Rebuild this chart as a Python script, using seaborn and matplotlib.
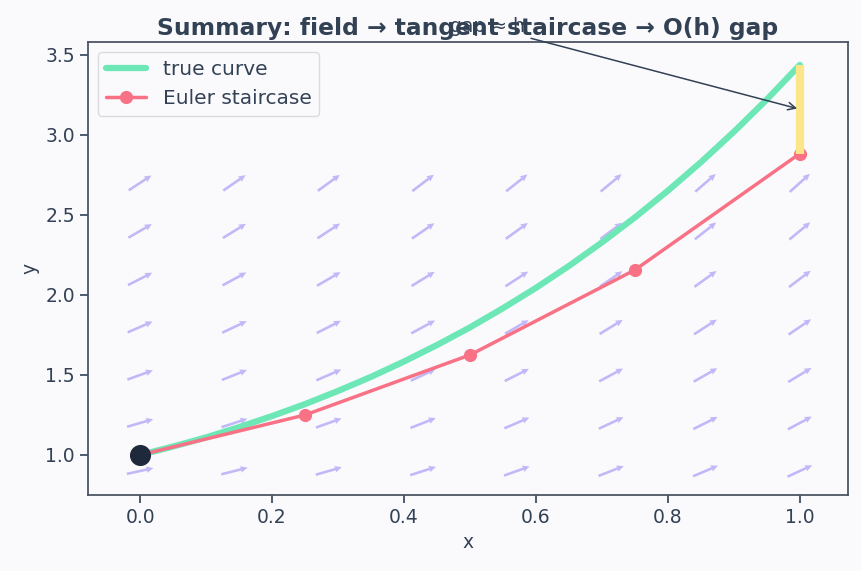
import numpy as np
import matplotlib
matplotlib.use("Agg")
import matplotlib.pyplot as plt
import seaborn as sns
import pandas as pd

# true solution (y' = x + y, y(0) = 1)
true_x = [0.0, 0.05, 0.1, 0.15, 0.2, 0.25, 0.3, 0.35, 0.4, 0.45, 0.5,
          0.55, 0.6, 0.65, 0.7, 0.75, 0.8, 0.85, 0.9, 0.95, 1.0]
true_y = [1.0, 1.053, 1.110, 1.174, 1.243, 1.318, 1.400, 1.488, 1.584, 1.687, 1.797,
          1.917, 2.044, 2.181, 2.328, 2.484, 2.651, 2.829, 3.019, 3.221, 3.437]

# Euler staircase, h = 0.25
euler_x = [0.0, 0.25, 0.5, 0.75, 1.0]
euler_y = [1.0, 1.25, 1.625, 2.156, 2.883]

# slope field grid
field_x = [0.0, 0.143, 0.286, 0.429, 0.571, 0.714, 0.857, 1.0]
field_y = [0.9, 1.2, 1.5, 1.8, 2.1, 2.4, 2.7]

BG = "#fafafd"
INK = "#334155"

sns.set_theme(style="ticks")
plt.rcParams.update({
    "figure.facecolor": BG, "axes.facecolor": BG, "axes.edgecolor": "#4b5563",
    "axes.linewidth": 1.3, "xtick.major.width": 1.2, "ytick.major.width": 1.2,
    "axes.labelcolor": INK, "xtick.color": INK, "ytick.color": INK, "text.color": INK,
    "xtick.labelsize": 13.5, "ytick.labelsize": 13.5, "axes.labelsize": 13.5,
})
plt.rcParams["font.family"] = ["DejaVu Sans"]

fig = plt.figure(figsize=(8.62, 5.71), dpi=100)
ax = fig.add_axes([88 / 862, 1 - 495 / 571, 760 / 862, 453 / 571])

X, Y = np.meshgrid(field_x, field_y)
S = X + Y
U = 1 / np.sqrt(1 + S ** 2)
V = S / np.sqrt(1 + S ** 2)
ax.quiver(X, Y, U, V, angles="xy", pivot="mid", color="#a99cf5", alpha=0.7,
          width=0.0034, headwidth=2.6, headlength=2.8, headaxislength=2.5, scale=28, zorder=1)

df_true = pd.DataFrame({"x": true_x, "y": true_y})
df_euler = pd.DataFrame({"x": euler_x, "y": euler_y})
sns.lineplot(data=df_true, x="x", y="y", ax=ax, color="#6ee7b7", lw=4.5, label="true curve", zorder=3)
sns.lineplot(data=df_euler, x="x", y="y", ax=ax, color="#f87185", lw=2.5, marker="o",
             markersize=9.5, markeredgewidth=0, label="Euler staircase", zorder=4)
ax.scatter([euler_x[0]], [euler_y[0]], s=200, color="#1e293b", zorder=6)

ax.plot([euler_x[-1], true_x[-1]], [euler_y[-1], true_y[-1]], color="#fde68a", lw=6,
        solid_capstyle="butt", zorder=5)
ax.annotate("gap ≈ h", xy=(1.0, 3.16), xytext=(0.47, 3.64), fontsize=13.5, color=INK,
            arrowprops=dict(arrowstyle="->", color=INK, lw=1.1), zorder=7)

ax.set_xlim(-0.079, 1.073)
ax.set_ylim(0.75, 3.58)
ax.set_xticks([0.0, 0.2, 0.4, 0.6, 0.8, 1.0])
ax.set_yticks([1.0, 1.5, 2.0, 2.5, 3.0, 3.5])
ax.set_xlabel("x")
ax.set_ylabel("y")
ax.set_title("Summary: field → tangent staircase → O(h) gap", fontsize=16.8,
             fontweight="bold", color=INK, pad=5)
ax.legend(loc="upper left", fontsize=14.5, frameon=True, facecolor=BG, edgecolor="#d4d4d8")

fig.savefig("out.png", dpi=100, facecolor=BG)
